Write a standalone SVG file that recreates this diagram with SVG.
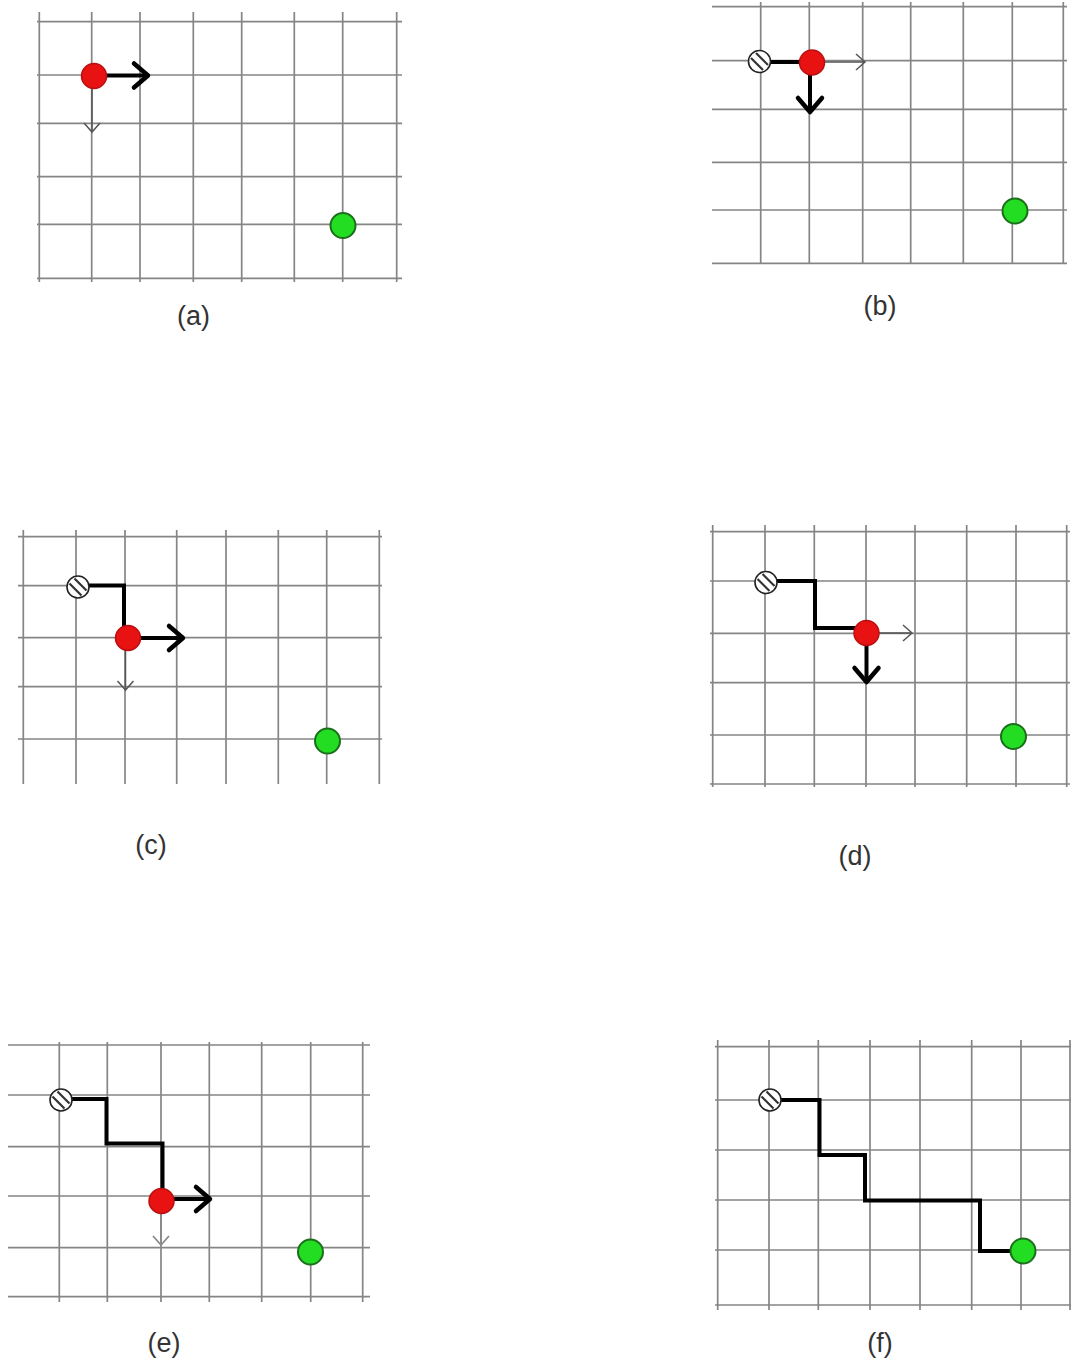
<svg xmlns="http://www.w3.org/2000/svg" width="1071" height="1364" viewBox="0 0 1071 1364">
<style>
.grid line{stroke:#858585;stroke-width:1.7}
.red{fill:#e81212;stroke:#b81010;stroke-width:1.5}
.green{fill:#22dd22;stroke:#1c6e1c;stroke-width:2}
.path{fill:none;stroke:#000;stroke-width:4;stroke-linejoin:miter}
.thick{stroke:#000;stroke-width:4;fill:none}
.thin{stroke:#555;stroke-width:1.5;fill:none}
.thinlt{stroke:#8a8a8a;stroke-width:1.8;fill:none}
.lbl{font-family:"Liberation Sans",Arial,sans-serif;font-size:27px;fill:#333;text-anchor:middle}
</style>
<defs>
<marker id="mThick" markerUnits="userSpaceOnUse" viewBox="-20 -16 24 32" refX="0" refY="0" markerWidth="24" markerHeight="32" orient="auto">
<path d="M-14,-12 L0,0 L-14,12" fill="none" stroke="#000" stroke-width="4.5" stroke-linecap="round" stroke-linejoin="round"/>
</marker>
<marker id="mThin" markerUnits="userSpaceOnUse" viewBox="-12 -10 14 20" refX="0" refY="0" markerWidth="14" markerHeight="20" orient="auto">
<path d="M-9,-8 L0,0 L-9,8" fill="none" stroke="#555" stroke-width="1.5"/>
</marker>
<marker id="mThinLt" markerUnits="userSpaceOnUse" viewBox="-12 -10 14 20" refX="0" refY="0" markerWidth="14" markerHeight="20" orient="auto">
<path d="M-9,-8 L0,0 L-9,8" fill="none" stroke="#8a8a8a" stroke-width="1.8"/>
</marker>
<g id="startSym">
<circle r="11" fill="#fff" stroke="#222" stroke-width="1.6"/>
<line x1="-3.5" y1="-8.5" x2="8.5" y2="3.5" stroke="#333" stroke-width="2.2"/>
<line x1="-8.5" y1="-3.5" x2="3.5" y2="8.5" stroke="#333" stroke-width="2.2"/>
</g>
</defs>
<rect width="1071" height="1364" fill="#fff"/>

<!-- Panel (a) -->
<g id="panel-a">
<g class="grid">
<line x1="39.3" y1="12" x2="39.3" y2="282"/><line x1="91.7" y1="12" x2="91.7" y2="282"/><line x1="140" y1="12" x2="140" y2="282"/><line x1="193.3" y1="12" x2="193.3" y2="282"/><line x1="241.7" y1="12" x2="241.7" y2="282"/><line x1="294.3" y1="12" x2="294.3" y2="282"/><line x1="342.7" y1="12" x2="342.7" y2="282"/><line x1="396.7" y1="12" x2="396.7" y2="282"/>
<line x1="37" y1="21.7" x2="402" y2="21.7"/><line x1="37" y1="75" x2="402" y2="75"/><line x1="37" y1="123.3" x2="402" y2="123.3"/><line x1="37" y1="176.7" x2="402" y2="176.7"/><line x1="37" y1="224.3" x2="402" y2="224.3"/><line x1="37" y1="278.3" x2="402" y2="278.3"/>
</g>
<g id="a-connectors">
<line class="thick" x1="105" y1="75.5" x2="148" y2="75.5" marker-end="url(#mThick)"/>
<line class="thin" x1="92" y1="88" x2="92" y2="132" marker-end="url(#mThin)"/>
</g>
<g id="a-current"><circle class="red" cx="94" cy="76" r="12.5"/></g>
<g id="a-goal"><circle class="green" cx="343" cy="225.5" r="12.5"/></g>
<text class="lbl" x="193.5" y="325">(a)</text>
</g>

<!-- Panel (b) -->
<g id="panel-b">
<g class="grid">
<line x1="760.7" y1="2" x2="760.7" y2="264"/><line x1="809.3" y1="2" x2="809.3" y2="264"/><line x1="862.7" y1="2" x2="862.7" y2="264"/><line x1="910.7" y1="2" x2="910.7" y2="264"/><line x1="963.3" y1="2" x2="963.3" y2="264"/><line x1="1012.3" y1="2" x2="1012.3" y2="264"/><line x1="1063.3" y1="2" x2="1063.3" y2="264"/>
<line x1="712" y1="6.7" x2="1067" y2="6.7"/><line x1="712" y1="60.7" x2="1067" y2="60.7"/><line x1="712" y1="109.3" x2="1067" y2="109.3"/><line x1="712" y1="162.3" x2="1067" y2="162.3"/><line x1="712" y1="210" x2="1067" y2="210"/><line x1="712" y1="263.3" x2="1067" y2="263.3"/>
</g>
<g id="b-connectors">
<path class="path" d="M770,62 L800,62"/>
<line class="thin" x1="825" y1="62" x2="865" y2="62" marker-end="url(#mThin)"/>
<line class="thick" x1="810" y1="75" x2="810" y2="112" marker-end="url(#mThick)"/>
</g>
<g id="b-start"><use href="#startSym" x="759.5" y="61.5"/></g>
<g id="b-current"><circle class="red" cx="812" cy="62.5" r="12.5"/></g>
<g id="b-goal"><circle class="green" cx="1015" cy="211" r="12.5"/></g>
<text class="lbl" x="880" y="315">(b)</text>
</g>

<!-- Panel (c) -->
<g id="panel-c">
<g class="grid">
<line x1="23.3" y1="530" x2="23.3" y2="784"/><line x1="76" y1="530" x2="76" y2="784"/><line x1="125" y1="530" x2="125" y2="784"/><line x1="176.7" y1="530" x2="176.7" y2="784"/><line x1="226" y1="530" x2="226" y2="784"/><line x1="278.3" y1="530" x2="278.3" y2="784"/><line x1="326.7" y1="530" x2="326.7" y2="784"/><line x1="379.3" y1="530" x2="379.3" y2="784"/>
<line x1="18" y1="536.7" x2="382" y2="536.7"/><line x1="18" y1="585.7" x2="382" y2="585.7"/><line x1="18" y1="637.7" x2="382" y2="637.7"/><line x1="18" y1="686.7" x2="382" y2="686.7"/><line x1="18" y1="739" x2="382" y2="739"/>
</g>
<g id="c-connectors">
<path class="path" d="M88,585.5 L124,585.5 L124,628"/>
<line class="thick" x1="140" y1="638" x2="183" y2="638" marker-end="url(#mThick)"/>
<line class="thin" x1="125.5" y1="650" x2="125.5" y2="690" marker-end="url(#mThin)"/>
</g>
<g id="c-start"><use href="#startSym" x="78" y="587"/></g>
<g id="c-current"><circle class="red" cx="128" cy="638" r="12.5"/></g>
<g id="c-goal"><circle class="green" cx="327.5" cy="741" r="12.5"/></g>
<text class="lbl" x="151" y="854">(c)</text>
</g>

<!-- Panel (d) -->
<g id="panel-d">
<g class="grid">
<line x1="712.7" y1="525" x2="712.7" y2="787"/><line x1="765" y1="525" x2="765" y2="787"/><line x1="814.3" y1="525" x2="814.3" y2="787"/><line x1="866" y1="525" x2="866" y2="787"/><line x1="915" y1="525" x2="915" y2="787"/><line x1="966.7" y1="525" x2="966.7" y2="787"/><line x1="1016" y1="525" x2="1016" y2="787"/><line x1="1066.7" y1="525" x2="1066.7" y2="787"/>
<line x1="710" y1="531.7" x2="1070" y2="531.7"/><line x1="710" y1="581" x2="1070" y2="581"/><line x1="710" y1="633.3" x2="1070" y2="633.3"/><line x1="710" y1="682.7" x2="1070" y2="682.7"/><line x1="710" y1="735" x2="1070" y2="735"/><line x1="710" y1="784" x2="1070" y2="784"/>
</g>
<g id="d-connectors">
<path class="path" d="M776,581 L815,581 L815,628 L856,628"/>
<line class="thin" x1="879" y1="633" x2="912" y2="633" marker-end="url(#mThin)"/>
<line class="thick" x1="866.5" y1="646" x2="866.5" y2="682" marker-end="url(#mThick)"/>
</g>
<g id="d-start"><use href="#startSym" x="766" y="582.5"/></g>
<g id="d-current"><circle class="red" cx="866.5" cy="633" r="12.5"/></g>
<g id="d-goal"><circle class="green" cx="1013.5" cy="736.5" r="12.5"/></g>
<text class="lbl" x="855" y="865">(d)</text>
</g>

<!-- Panel (e) -->
<g id="panel-e">
<g class="grid">
<line x1="59.3" y1="1042" x2="59.3" y2="1302"/><line x1="107.3" y1="1042" x2="107.3" y2="1302"/><line x1="161" y1="1042" x2="161" y2="1302"/><line x1="209.3" y1="1042" x2="209.3" y2="1302"/><line x1="261.7" y1="1042" x2="261.7" y2="1302"/><line x1="310.7" y1="1042" x2="310.7" y2="1302"/><line x1="362.7" y1="1042" x2="362.7" y2="1302"/>
<line x1="8" y1="1045" x2="370" y2="1045"/><line x1="8" y1="1095" x2="370" y2="1095"/><line x1="8" y1="1146.7" x2="370" y2="1146.7"/><line x1="8" y1="1196" x2="370" y2="1196"/><line x1="8" y1="1247.7" x2="370" y2="1247.7"/><line x1="8" y1="1296.7" x2="370" y2="1296.7"/>
</g>
<g id="e-connectors">
<path class="path" d="M71,1099 L106.5,1099 L106.5,1143.5 L162.5,1143.5 L162.5,1190"/>
<line class="thick" x1="174" y1="1199" x2="210" y2="1199" marker-end="url(#mThick)"/>
<line class="thinlt" x1="161" y1="1213" x2="161" y2="1245" marker-end="url(#mThinLt)"/>
</g>
<g id="e-start"><use href="#startSym" x="61" y="1100"/></g>
<g id="e-current"><circle class="red" cx="161.5" cy="1201" r="12.5"/></g>
<g id="e-goal"><circle class="green" cx="310.5" cy="1252" r="12.5"/></g>
<text class="lbl" x="164" y="1352">(e)</text>
</g>

<!-- Panel (f) -->
<g id="panel-f">
<g class="grid">
<line x1="717.7" y1="1040" x2="717.7" y2="1310"/><line x1="769" y1="1040" x2="769" y2="1310"/><line x1="818.3" y1="1040" x2="818.3" y2="1310"/><line x1="870" y1="1040" x2="870" y2="1310"/><line x1="920" y1="1040" x2="920" y2="1310"/><line x1="971.7" y1="1040" x2="971.7" y2="1310"/><line x1="1021" y1="1040" x2="1021" y2="1310"/><line x1="1070" y1="1040" x2="1070" y2="1310"/>
<line x1="715" y1="1046.7" x2="1071" y2="1046.7"/><line x1="715" y1="1100" x2="1071" y2="1100"/><line x1="715" y1="1150" x2="1071" y2="1150"/><line x1="715" y1="1200" x2="1071" y2="1200"/><line x1="715" y1="1250" x2="1071" y2="1250"/><line x1="715" y1="1305" x2="1071" y2="1305"/>
</g>
<g id="f-connectors">
<path class="path" d="M781,1100 L819.5,1100 L819.5,1155 L865,1155 L865,1200.5 L980,1200.5 L980,1251 L1012,1251"/>
</g>
<g id="f-start"><use href="#startSym" x="770" y="1100"/></g>
<g id="f-goal"><circle class="green" cx="1023" cy="1251" r="12.5"/></g>
<text class="lbl" x="880" y="1352">(f)</text>
</g>
</svg>
